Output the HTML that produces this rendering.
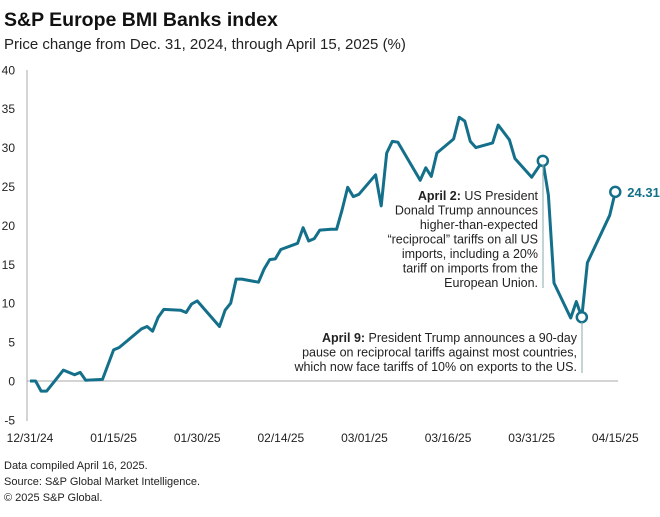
<!DOCTYPE html>
<html><head><meta charset="utf-8"><style>
body{margin:0;background:#fff;font-family:"Liberation Sans",sans-serif;}
svg text{font-family:"Liberation Sans",sans-serif;}
</style></head><body>
<svg width="660" height="512" xmlns="http://www.w3.org/2000/svg">
<text x="4" y="26" font-size="19.5" font-weight="bold" fill="#111">S&amp;P Europe BMI Banks index</text>
<text x="4" y="49" font-size="15" fill="#222">Price change from Dec. 31, 2024, through April 15, 2025 (%)</text>
<g id="yaxis"></g>
<g id="xaxis"></g>
<line x1="27" y1="70" x2="27" y2="421" stroke="#aaa" stroke-width="1"/>
<g id="plot"></g>
<line x1="543" y1="165" x2="543" y2="288" stroke="#8aa" stroke-width="1"/>
<line x1="582" y1="322" x2="582" y2="373" stroke="#8aa" stroke-width="1"/>
<g font-size="12.5" fill="#222" text-anchor="end">
<text x="538" y="200"><tspan font-weight="bold">April 2:</tspan> US President</text>
<text x="538" y="214.5">Donald Trump announces</text>
<text x="538" y="229">higher-than-expected</text>
<text x="538" y="243.5">“reciprocal” tariffs on all US</text>
<text x="538" y="258">imports, including a 20%</text>
<text x="538" y="272.5">tariff on imports from the</text>
<text x="538" y="287">European Union.</text>
</g>
<g font-size="12.5" fill="#222" text-anchor="end">
<text x="577" y="342"><tspan font-weight="bold">April 9:</tspan> President Trump announces a 90-day</text>
<text x="577" y="356.5">pause on reciprocal tariffs against most countries,</text>
<text x="577" y="371">which now face tariffs of 10% on exports to the US.</text>
</g>
<g font-size="11" fill="#222">
<text x="4" y="469">Data compiled April 16, 2025.</text>
<text x="4" y="485">Source: S&amp;P Global Market Intelligence.</text>
<text x="4" y="501">© 2025 S&amp;P Global.</text>
</g>
</svg>
<script>
const yTicks=[-5,0,5,10,15,20,25,30,35,40];
const xTickLabels=["12/31/24","01/15/25","01/30/25","02/14/25","03/01/25","03/16/25","03/31/25","04/15/25"];
const xTickDays=[0,15,30,45,60,75,90,105];
const days=[0,1,2,3,6,8,9,10,13,15,16,20,21,22,23,24,27,28,29,30,34,35,36,37,38,41,42,43,44,45,48,49,50,51,52,54,55,56,57,58,59,62,63,64,65,66,70,71,72,73,76,77,78,79,80,83,84,86,87,90,92,93,94,97,98,99,100,104,105];
const values=[0,0,-1.3,-1.3,1.4,0.8,1.1,0.1,0.2,4.0,4.3,6.7,7.0,6.4,8.2,9.2,9.1,8.8,9.9,10.3,7.0,9.1,10.0,13.1,13.1,12.7,14.4,15.6,15.7,16.9,17.7,19.7,18.0,18.3,19.4,19.5,19.5,22.0,24.9,23.7,24.0,26.5,22.5,29.3,30.8,30.7,25.8,27.4,26.3,29.3,31.1,33.9,33.4,30.8,30.0,30.6,32.9,31.0,28.6,26.2,28.3,23.9,12.6,8.1,10.2,8.2,15.2,21.3,24.31];
const markerIdx=[60,65,68];
const NS="http://www.w3.org/2000/svg";
const xs=d=>30+d*5.574;
const ys=v=>381-v*7.78;
const ya=document.getElementById('yaxis'),xa=document.getElementById('xaxis'),pl=document.getElementById('plot');
function mk(t,a,p){const e=document.createElementNS(NS,t);for(const k in a)e.setAttribute(k,a[k]);p.appendChild(e);return e;}
yTicks.forEach(v=>{const t=mk('text',{x:15,y:ys(v)+4.5,'font-size':12,'text-anchor':'end',fill:'#222'},ya);t.textContent=v;

});
xTickLabels.forEach((l,i)=>{const t=mk('text',{x:xs(xTickDays[i]),y:442,'font-size':12,'text-anchor':'middle',fill:'#222'},xa);t.textContent=l;

});
const z=mk('line',{x1:27,x2:618,y1:ys(0),y2:ys(0),stroke:'#aaa','stroke-width':1},pl);


const pts=days.map((d,i)=>xs(d).toFixed(1)+','+ys(values[i]).toFixed(1)).join(' ');
const ln=mk('polyline',{points:pts,fill:'none',stroke:'#14708a','stroke-width':3,'stroke-linejoin':'round'},pl);


markerIdx.forEach(i=>{const c=mk('circle',{cx:xs(days[i]),cy:ys(values[i]),r:5,fill:'#fff',stroke:'#14708a','stroke-width':2.5},pl);

});
const last=values.length-1;
const lb=mk('text',{x:xs(days[last])+12,y:ys(values[last])+5,'font-size':13,'font-weight':'bold',fill:'#14708a'},pl);
lb.textContent=values[last].toFixed(2);


</script>
</body></html>
